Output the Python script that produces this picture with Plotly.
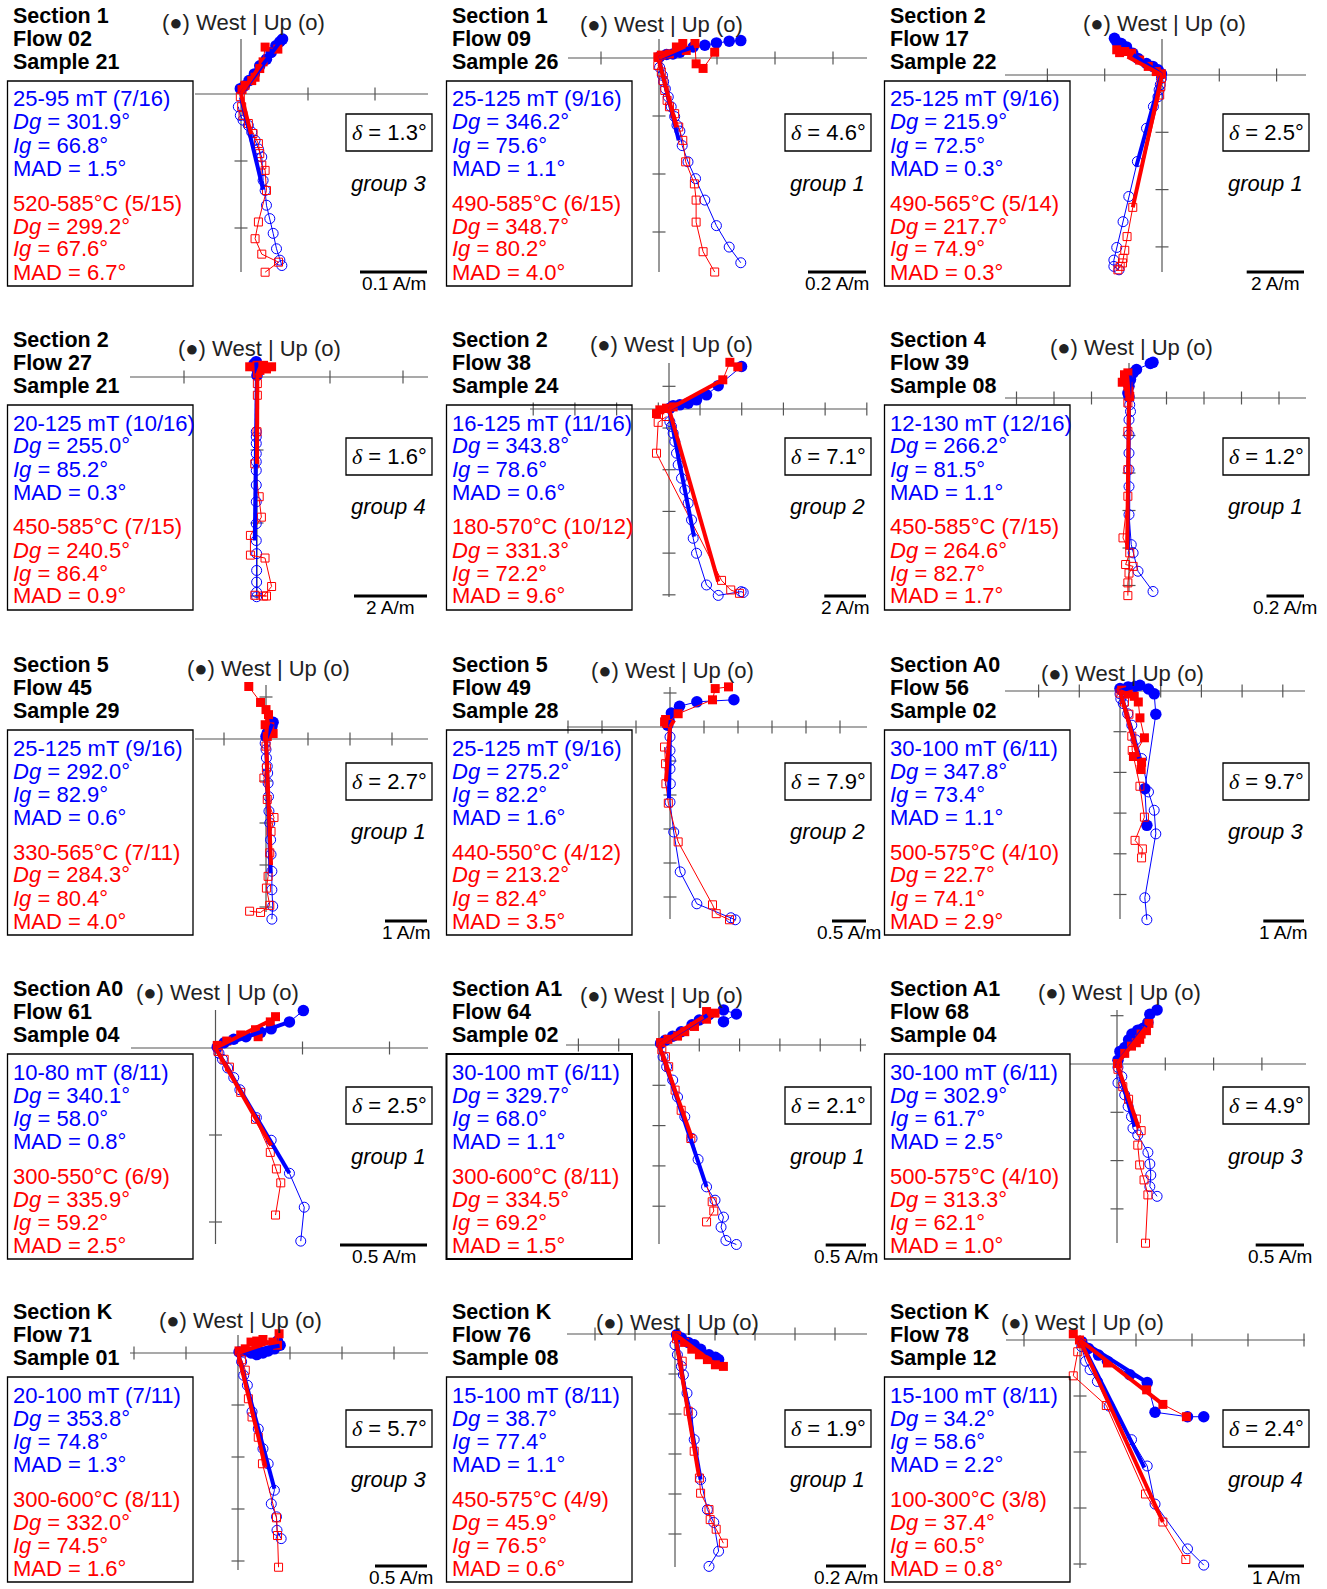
import plotly.graph_objects as go

# ---------------- text content ----------------
SECTIONS = ["Section 1", "Section 1", "Section 2", "Section 2", "Section 2", "Section 4",
            "Section 5", "Section 5", "Section A0", "Section A0", "Section A1", "Section A1",
            "Section K", "Section K", "Section K"]
FLOWS = ["Flow 02", "Flow 09", "Flow 17", "Flow 27", "Flow 38", "Flow 39", "Flow 45", "Flow 49",
         "Flow 56", "Flow 61", "Flow 64", "Flow 68", "Flow 71", "Flow 76", "Flow 78"]
SAMPLES = ["Sample 21", "Sample 26", "Sample 22", "Sample 21", "Sample 24", "Sample 08", "Sample 29",
           "Sample 28", "Sample 02", "Sample 04", "Sample 02", "Sample 04", "Sample 01", "Sample 08",
           "Sample 12"]
AF_STEPS = ["25-95 mT (7/16)", "25-125 mT (9/16)", "25-125 mT (9/16)", "20-125 mT (10/16)",
            "16-125 mT (11/16)", "12-130 mT (12/16)", "25-125 mT (9/16)", "25-125 mT (9/16)",
            "30-100 mT (6/11)", "10-80 mT (8/11)", "30-100 mT (6/11)", "30-100 mT (6/11)",
            "20-100 mT (7/11)", "15-100 mT (8/11)", "15-100 mT (8/11)"]
AF_DG = ["301.9", "346.2", "215.9", "255.0", "343.8", "266.2", "292.0", "275.2", "347.8", "340.1",
         "329.7", "302.9", "353.8", "38.7", "34.2"]
AF_IG = ["66.8", "75.6", "72.5", "85.2", "78.6", "81.5", "82.9", "82.2", "73.4", "58.0", "68.0",
         "61.7", "74.8", "77.4", "58.6"]
AF_MAD = ["1.5", "1.1", "0.3", "0.3", "0.6", "1.1", "0.6", "1.6", "1.1", "0.8", "1.1", "2.5", "1.3",
          "1.1", "2.2"]
TH_STEPS = ["520-585°C (5/15)", "490-585°C (6/15)", "490-565°C (5/14)", "450-585°C (7/15)",
            "180-570°C (10/12)", "450-585°C (7/15)", "330-565°C (7/11)", "440-550°C (4/12)",
            "500-575°C (4/10)", "300-550°C (6/9)", "300-600°C (8/11)", "500-575°C (4/10)",
            "300-600°C (8/11)", "450-575°C (4/9)", "100-300°C (3/8)"]
TH_DG = ["299.2", "348.7", "217.7", "240.5", "331.3", "264.6", "284.3", "213.2", "22.7", "335.9",
         "334.5", "313.3", "332.0", "45.9", "37.4"]
TH_IG = ["67.6", "80.2", "74.9", "86.4", "72.2", "82.7", "80.4", "82.4", "74.1", "59.2", "69.2",
         "62.1", "74.5", "76.5", "60.5"]
TH_MAD = ["6.7", "4.0", "0.3", "0.9", "9.6", "1.7", "4.0", "3.5", "2.9", "2.5", "1.5", "1.0", "1.6",
          "0.6", "0.8"]
DELTAS = ["1.3", "4.6", "2.5", "1.6", "7.1", "1.2", "2.7", "7.9", "9.7", "2.5", "2.1", "4.9", "5.7",
          "1.9", "2.4"]
GROUPS = ["group 3", "group 1", "group 1", "group 4", "group 2", "group 1", "group 1", "group 2",
          "group 3", "group 1", "group 1", "group 3", "group 3", "group 1", "group 4"]
SCALE_AM = [0.1, 0.2, 2, 2, 2, 0.2, 1, 0.5, 1, 0.5, 0.5, 0.5, 0.5, 0.2, 1]
SCALE_LABELS = ["0.1 A/m", "0.2 A/m", "2 A/m", "2 A/m", "2 A/m", "0.2 A/m", "1 A/m", "0.5 A/m",
                "1 A/m", "0.5 A/m", "0.5 A/m", "0.5 A/m", "0.5 A/m", "0.2 A/m", "1 A/m"]

# ---------------- data (A/m): BH = AF horizontal (filled), BV = AF vertical (open),
#                  RH = thermal horizontal (filled), RV = thermal vertical (open)
#                  FIT_* = [x0, y0, x1, y1] of principal component lines
P01_BH_X = [-0.001, 0.005, 0.012, 0.02, 0.028, 0.038, 0.045, 0.052, 0.058, 0.062]
P01_BH_Y = [0.008, 0.012, 0.02, 0.03, 0.042, 0.052, 0.062, 0.072, 0.078, 0.082]
P01_BV_X = [-0.004, -0.001, 0.003, 0.011, 0.016, 0.021, 0.026, 0.031, 0.033, 0.036, 0.038, 0.043, 0.048, 0.053, 0.058, 0.061]
P01_BV_Y = [-0.019, -0.032, -0.039, -0.047, -0.057, -0.069, -0.082, -0.094, -0.129, -0.144, -0.166, -0.186, -0.208, -0.231, -0.248, -0.256]
P01_RH_X = [0.0015, 0.006, 0.016, 0.021, 0.028, 0.033, 0.036, 0.055]
P01_RH_Y = [0.0066, 0.013, 0.020, 0.025, 0.038, 0.048, 0.070, 0.067]
P01_RV_X = [-0.001, 0.001, 0.003, 0.011, 0.018, 0.026, 0.028, 0.031, 0.036, 0.038, 0.026, 0.021, 0.031, 0.056, 0.036]
P01_RV_Y = [-0.004, -0.019, -0.032, -0.044, -0.059, -0.074, -0.089, -0.106, -0.114, -0.144, -0.191, -0.216, -0.239, -0.251, -0.266]
P01_FIT_BH = [0, 0, 0.06, 0.08]
P01_FIT_RH = [0, 0, 0.03, 0.045]
P01_FIT_BV = [0, -0.005, 0.033, -0.143]
P01_FIT_RV = [0, 0, 0.015, -0.06]

P02_BH_X = [0.002, 0.026, 0.048, 0.072, 0.118, 0.158, 0.198, 0.242, 0.282]
P02_BH_Y = [0.004, 0.012, 0.014, 0.02, 0.038, 0.044, 0.052, 0.058, 0.06]
P02_BV_X = [0.002, 0.012, 0.016, 0.022, 0.032, 0.042, 0.054, 0.062, 0.072, 0.08, 0.1, 0.126, 0.158, 0.198, 0.242, 0.282]
P02_BV_Y = [-0.032, -0.06, -0.082, -0.106, -0.134, -0.168, -0.202, -0.232, -0.252, -0.302, -0.358, -0.416, -0.49, -0.578, -0.652, -0.706]
P02_RH_X = [-0.004, 0.008, 0.036, 0.06, 0.082, 0.094, 0.124, 0.128, 0.152, 0.192]
P02_RH_Y = [0.004, 0.01, 0.014, 0.038, 0.05, 0.026, 0.05, -0.02, -0.036, 0.02]
P02_RV_X = [-0.004, 0.008, 0.014, 0.02, 0.028, 0.036, 0.054, 0.068, 0.082, 0.092, 0.122, 0.128, 0.128, 0.152, 0.192]
P02_RV_Y = [-0.026, -0.048, -0.078, -0.112, -0.146, -0.168, -0.192, -0.238, -0.284, -0.358, -0.434, -0.49, -0.566, -0.668, -0.738]
P02_FIT_BH = [0, 0, 0.12, 0.038]
P02_FIT_RH = [0, 0, 0.09, 0.04]
P02_FIT_BV = [0.002, -0.014, 0.068, -0.284]
P02_FIT_RV = [0, -0.01, 0.06, -0.24]

P03_BH_X = [-1.66, -1.58, -1.42, -1.24, -1.02, -0.84, -0.54, -0.32, -0.14, -0.02]
P03_BH_Y = [1.28, 1.16, 1.1, 0.98, 0.76, 0.58, 0.4, 0.3, 0.18, 0.04]
P03_BV_X = [-0.02, -0.06, -0.1, -0.14, -0.3, -0.54, -0.86, -1.16, -1.36, -1.58, -1.68, -1.68, -1.5]
P03_BV_Y = [-0.12, -0.34, -0.52, -0.76, -1.1, -1.86, -3.02, -4.24, -5.12, -6.02, -6.46, -6.68, -6.8]
P03_RH_X = [-1.58, -1.48, -1.3, -1.06, -0.78, -0.48, -0.2, -0.02]
P03_RH_Y = [0.88, 0.78, 0.82, 0.76, 0.52, 0.3, 0.12, 0.04]
P03_RV_X = [-0.02, -0.04, -0.08, -1.02, -1.22, -1.3, -1.36, -1.38, -1.46, -1.54]
P03_RV_Y = [-0.12, -0.4, -0.7, -4.62, -5.64, -6.12, -6.4, -6.56, -6.68, -6.8]
P03_FIT_BH = [0, 0, -1.0, 0.7]
P03_FIT_RH = [0, 0, -1.2, 0.64]
P03_FIT_BV = [-0.02, 0, -0.9, -3.2]
P03_FIT_RV = [0, 0, -1.02, -4.62]

P04_BH_X = [-0.02, -0.08, 0, 0.01, 0]
P04_BH_Y = [0.42, 0.36, 0.32, 0.18, 0.04]
P04_BV_X = [-0.02, -0.02, -0.02, -0.02, -0.02, -0.02, -0.02, -0.02, -0.02, -0.02, -0.01, -0.01, -0.01, -0.01, -0.01]
P04_BV_Y = [-1.5, -1.64, -1.82, -2.1, -2.32, -2.56, -2.96, -3.42, -4.02, -4.48, -4.84, -5.3, -5.62, -5.9, -6.02]
P04_RH_X = [-0.2, 0, 0.18, 0.4, 0.26, 0.08, 0.01]
P04_RH_Y = [0.28, 0.32, 0.32, 0.28, 0.22, 0.18, 0.1]
P04_RV_X = [0.01, 0.01, 0, -0.06, 0.06, 0.12, -0.18, -0.18, 0.22, 0.4, 0.18, 0.26, -0.06]
P04_RV_Y = [-0.18, -0.5, -1.5, -2.38, -3.28, -3.84, -4.34, -4.88, -4.96, -5.74, -6.0, -6.0, -5.98]
P04_FIT_BH = [0, 0.04, -0.02, 0.4]
P04_FIT_RH = [0, 0.04, 0.1, 0.3]
P04_FIT_BV = [0, 0.3, -0.06, -4.48]
P04_FIT_RV = [0.01, 0.1, 0, -2.38]

P05_BH_X = [0.04, 0.2, 0.52, 0.92, 1.32, 1.8, 2.36, 3.48]
P05_BH_Y = [0.04, 0.16, 0.2, 0.28, 0.44, 0.68, 1.12, 2.04]
P05_BV_X = [0.04, 0.12, 0.2, 0.28, 0.36, 0.44, 0.6, 0.76, 0.92, 1.08, 1.16, 1.32, 1.8, 2.36, 3.46, 3.56]
P05_BV_Y = [-0.6, -0.84, -1.16, -1.56, -2.12, -2.68, -3.32, -3.88, -4.52, -5.32, -6.2, -6.92, -8.44, -8.94, -8.76, -8.8]
P05_RH_X = [-0.6, -0.44, -0.12, 0.2, 2.58, 2.92, 3.3]
P05_RH_Y = [-0.22, -0.04, 0.04, 0.1, 1.4, 2.24, 2.02]
P05_RV_X = [-0.12, -0.52, -0.6, 2.52, 2.96, 3.38]
P05_RV_Y = [-0.36, -0.64, -2.12, -8.22, -8.68, -8.84]
P05_FIT_BH = [0, 0, 1.8, 0.8]
P05_FIT_RH = [0, 0, 2.58, 1.4]
P05_FIT_BV = [0.04, -0.2, 1.2, -6.12]
P05_FIT_RV = [0, 0, 2.36, -8.28]

P06_BH_X = [0.128, 0.114, 0.04, 0.022, 0.008, 0, -0.006, 0]
P06_BH_Y = [0.19, 0.184, 0.152, 0.134, 0.098, 0.062, 0.026, 0.006]
P06_BV_X = [0.004, 0.008, 0, 0, 0, 0, 0, 0, 0.012, 0.022, 0.048, 0.128]
P06_BV_Y = [-0.036, -0.072, -0.116, -0.196, -0.294, -0.382, -0.472, -0.622, -0.782, -0.826, -0.924, -1.032]
P06_RH_X = [-0.006, -0.024, -0.036, -0.014, -0.006, 0, 0.004]
P06_RH_Y = [0.134, 0.124, 0.084, 0.106, 0.062, 0.036, 0.008]
P06_RV_X = [-0.006, -0.006, -0.006, -0.006, -0.032, 0.004, -0.018, 0.022, 0, -0.006, -0.006]
P06_RV_Y = [-0.026, -0.178, -0.382, -0.524, -0.746, -0.826, -0.888, -0.898, -0.934, -0.986, -1.054]
P06_FIT_BH = [0, 0, 0.006, 0.12]
P06_FIT_RH = [0, 0, -0.01, 0.12]
P06_FIT_BV = [0, -0.008, -0.006, -0.808]
P06_FIT_RV = [0, 0, -0.01, -0.808]

P07_BH_X = [0, 0.03, 0.09, 0.14, 0.17, 0.09]
P07_BH_Y = [0.06, 0.14, 0.22, 0.3, 0.4, 0.34]
P07_BV_X = [-0.02, 0, 0.01, 0.03, 0.04, 0.05, 0.06, 0.07, 0.09, 0.11, 0.12, 0.14, 0.14, 0.16, 0.14]
P07_BV_Y = [-0.1, -0.25, -0.45, -0.65, -0.81, -1.05, -1.37, -1.72, -2.0, -2.4, -2.75, -3.15, -3.59, -3.98, -4.29]
P07_RH_X = [-0.41, -0.13, 0, 0.06, -0.02, 0.09, 0.17, 0.03]
P07_RH_Y = [1.25, 0.87, 0.7, 0.58, 0.34, 0.29, 0.13, 0.06]
P07_RV_X = [0, 0.01, -0.05, 0.03, 0.19, 0.12, 0.09, 0.05, 0.01, 0.09, -0.13, -0.39]
P07_RV_Y = [-0.17, -0.69, -0.93, -1.44, -1.87, -2.2, -2.71, -3.27, -3.55, -3.96, -4.13, -4.1]
P07_FIT_BH = [0, 0, 0.15, 0.36]
P07_FIT_RH = [0, 0, 0.04, 0.6]
P07_FIT_BV = [0, 0, 0.11, -3.2]
P07_FIT_RV = [0, 0, 0.12, -3.0]

P08_BH_X = [0.94, 0.395, 0.14, 0.02, -0.015, -0.035]
P08_BH_Y = [0.4, 0.37, 0.305, 0.205, 0.1, 0.025]
P08_BV_X = [0, 0, 0.005, 0, 0.005, 0, 0.055, 0.15, 0.395, 0.895, 0.96]
P08_BV_Y = [-0.145, -0.345, -0.49, -0.615, -0.835, -1.105, -1.545, -2.13, -2.6, -2.805, -2.835]
P08_RH_X = [-0.08, -0.065, -0.045, 0.12, 0.625, 0.665, 0.86]
P08_RH_Y = [0.075, 0.11, 0.05, 0.195, 0.4, 0.565, 0.59]
P08_RV_X = [-0.08, -0.065, -0.06, -0.025, 0.12, 0.625, 0.68, 0.875]
P08_RV_Y = [-0.295, -0.54, -0.835, -1.12, -1.69, -2.615, -2.745, -2.835]
P08_FIT_BH = [0, 0, 0.01, 0.1]
P08_FIT_RH = [0, 0, 0.06, 0.1]
P08_FIT_BV = [0, 0, -0.015, -1.05]
P08_FIT_RV = [0, 0, -0.06, -0.8]

P09_BH_X = [0.0, 0.2, 0.37, 0.49, 0.70, 0.84, 0.88, 0.61, 0.66]
P09_BH_Y = [0.06, 0.10, 0.11, 0.14, 0.05, -0.07, -0.57, -2.40, -3.30]
P09_BV_X = [0, 0.02, 0.08, 0.19, 0.29, 0.39, 0.53, 0.70, 0.84, 0.88, 0.61, 0.66]
P09_BV_Y = [-0.07, -0.19, -0.31, -0.56, -0.84, -1.2, -1.66, -2.48, -2.93, -3.51, -5.08, -5.62]
P09_RH_X = [0.04, 0.2, 0.35, 0.45, 0.49, 0.6, 0.33, 0.53, 0.52]
P09_RH_Y = [0.02, -0.07, -0.13, -0.27, -0.66, -1.15, -1.61, -1.75, -1.93]
P09_RV_X = [0, 0.11, 0.22, 0.29, 0.3, 0.49, 0.6, 0.37, 0.55, 0.53]
P09_RV_Y = [-0.05, -0.27, -0.57, -1.11, -1.46, -2.34, -3.1, -3.67, -3.88, -4.1]
P09_FIT_BH = [0, 0, 0.4, 0.12]
P09_FIT_RH = [0, 0, 0.35, -0.13]
P09_FIT_BV = [0, 0, 0.47, -1.66]
P09_FIT_RV = [0, 0, 0.45, -1.62]

P10_BH_X = [0.01, 0.05, 0.105, 0.175, 0.26, 0.32, 0.425, 0.505]
P10_BH_Y = [0.005, 0.03, 0.05, 0.065, 0.09, 0.11, 0.15, 0.215]
P10_BV_X = [0.02, 0.04, 0.07, 0.105, 0.14, 0.235, 0.32, 0.425, 0.51, 0.49]
P10_BV_Y = [-0.03, -0.065, -0.115, -0.17, -0.24, -0.4, -0.53, -0.72, -0.915, -1.11]
P10_RH_X = [0.01, 0.065, 0.145, 0.245, 0.23, 0.315, 0.345]
P10_RH_Y = [0.015, 0.04, 0.075, 0.065, 0.105, 0.15, 0.18]
P10_RV_X = [0.015, 0.05, 0.08, 0.145, 0.23, 0.315, 0.35, 0.375, 0.345]
P10_RV_Y = [-0.02, -0.065, -0.11, -0.255, -0.41, -0.6, -0.695, -0.775, -0.96]
P10_FIT_BH = [0, 0, 0.425, 0.15]
P10_FIT_RH = [0, 0, 0.34, 0.17]
P10_FIT_BV = [0, 0, 0.425, -0.72]
P10_FIT_RV = [0, 0, 0.32, -0.56]

P11_BH_X = [0.02, 0.08, 0.17, 0.275, 0.41, 0.5, 0.62, 0.8, 0.96, 0.8]
P11_BH_Y = [0.02, 0.06, 0.11, 0.165, 0.25, 0.31, 0.375, 0.435, 0.385, 0.29]
P11_BV_X = [0.05, 0.095, 0.17, 0.23, 0.32, 0.41, 0.485, 0.59, 0.695, 0.8, 0.77, 0.83, 0.96]
P11_BV_Y = [-0.145, -0.27, -0.435, -0.645, -0.89, -1.16, -1.42, -1.76, -1.925, -2.135, -2.26, -2.425, -2.475]
P11_RH_X = [0.02, 0.11, 0.23, 0.32, 0.44, 0.59, 0.695, 0.59]
P11_RH_Y = [0.03, 0.07, 0.11, 0.165, 0.23, 0.32, 0.395, 0.415]
P11_RV_X = [0.035, 0.08, 0.12, 0.2, 0.275, 0.395, 0.66, 0.68, 0.59]
P11_RV_Y = [-0.06, -0.145, -0.27, -0.56, -0.81, -1.16, -1.945, -2.06, -2.195]
P11_FIT_BH = [0, 0, 0.6, 0.37]
P11_FIT_RH = [0, 0, 0.55, 0.35]
P11_FIT_BV = [0, 0, 0.59, -1.76]
P11_FIT_RV = [0, 0, 0.41, -1.16]

P12_BH_X = [0.01, 0.03, 0.08, 0.12, 0.155, 0.215, 0.27, 0.32, 0.34, 0.415]
P12_BH_Y = [0.04, 0.13, 0.17, 0.25, 0.31, 0.35, 0.37, 0.43, 0.515, 0.56]
P12_BV_X = [0.01, 0.05, 0.01, 0.08, 0.115, 0.15, 0.165, 0.215, 0.32, 0.34, 0.35, 0.34, 0.415]
P12_BV_Y = [-0.035, -0.13, -0.195, -0.32, -0.44, -0.545, -0.665, -0.735, -0.915, -1.035, -1.15, -1.27, -1.37]
P12_RH_X = [0.005, 0.08, 0.15, 0.2, 0.235, 0.25, 0.305, 0.33]
P12_RH_Y = [0.005, 0.11, 0.185, 0.22, 0.255, 0.31, 0.345, 0.42]
P12_RV_X = [0.01, 0.06, 0.12, 0.2, 0.25, 0.215, 0.235, 0.28, 0.32, 0.295]
P12_RV_Y = [-0.055, -0.235, -0.365, -0.57, -0.69, -0.84, -1.045, -1.2, -1.355, -1.855]
P12_FIT_BH = [0, 0, 0.3, 0.4]
P12_FIT_RH = [0, 0, 0.3, 0.38]
P12_FIT_BV = [0, 0, 0.185, -0.65]
P12_FIT_RV = [0, 0, 0.225, -0.665]

P13_BH_X = [0.01, 0.07, 0.125, 0.18, 0.24, 0.29, 0.35, 0.405, 0.38]
P13_BH_Y = [0.01, 0.02, 0, -0.015, 0, 0.02, 0.04, 0.075, 0.115]
P13_BV_X = [0.035, 0.055, 0.09, 0.135, 0.195, 0.24, 0.29, 0.35, 0.32, 0.37, 0.375, 0.415]
P13_BV_Y = [-0.085, -0.215, -0.31, -0.565, -0.73, -0.92, -1.065, -1.32, -1.45, -1.575, -1.705, -1.785]
P13_RH_X = [0.01, 0.07, 0.125, 0.18, 0.24, 0.335, 0.395, 0.38]
P13_RH_Y = [0.02, 0.04, 0.105, 0.115, 0.13, 0.105, 0.185, 0.075]
P13_RV_X = [0.035, 0.07, 0.1, 0.135, 0.195, 0.235, 0.37, 0.38, 0.39]
P13_RV_Y = [-0.065, -0.165, -0.44, -0.615, -0.81, -1.065, -1.585, -1.755, -2.06]
P13_FIT_BH = [0, 0, 0.4, 0.07]
P13_FIT_RH = [0, 0, 0.35, 0.12]
P13_FIT_BV = [0, 0, 0.35, -1.305]
P13_FIT_RV = [0, 0, 0.265, -1.095]

P14_BH_X = [0.008, 0.032, 0.066, 0.096, 0.128, 0.17, 0.202, 0.218]
P14_BH_Y = [-0.004, -0.02, -0.042, -0.054, -0.076, -0.104, -0.116, -0.128]
P14_BV_X = [0, 0.012, 0.032, 0.042, 0.06, 0.084, 0.096, 0.128, 0.162, 0.194, 0.218, 0.17]
P14_BV_Y = [-0.054, -0.104, -0.162, -0.204, -0.296, -0.396, -0.528, -0.728, -0.878, -0.942, -1.086, -1.162]
P14_RH_X = [0.008, 0.048, 0.084, 0.122, 0.162, 0.202, 0.242]
P14_RH_Y = [-0.008, -0.042, -0.076, -0.104, -0.128, -0.154, -0.162]
P14_RV_X = [0.008, 0.036, 0.066, 0.096, 0.122, 0.128, 0.17, 0.176, 0.206, 0.242]
P14_RV_Y = [-0.024, -0.136, -0.386, -0.586, -0.72, -0.796, -0.878, -0.928, -0.976, -1.046]
P14_FIT_BH = [0, 0, 0.2, -0.116]
P14_FIT_RH = [0, 0, 0.2, -0.15]
P14_FIT_BV = [0, 0, 0.128, -0.728]
P14_FIT_RV = [0, 0, 0.12, -0.712]

P15_BH_X = [0.03, 0.15, 0.33, 0.49, 0.89, 1.20, 1.34, 1.92, 2.21]
P15_BH_Y = [-0.03, -0.15, -0.27, -0.38, -0.62, -0.76, -1.29, -1.37, -1.37]
P15_BV_X = [0.03, 0.10, 0.18, 0.31, 0.52, 0.92, 1.20, 1.34, 1.92, 2.21]
P15_BV_Y = [-0.12, -0.38, -0.53, -0.74, -1.18, -1.78, -2.25, -2.93, -3.73, -4.02]
P15_RH_X = [-0.12, -0.01, 0.03, 0.49, 1.19, 1.48, 1.9]
P15_RH_Y = [0.11, 0, -0.06, -0.41, -0.89, -1.15, -1.37]
P15_RV_X = [-0.04, -0.12, 0.47, 1.17, 1.48, 1.89]
P15_RV_Y = [-0.21, -0.64, -1.17, -2.75, -3.25, -3.92]
P15_FIT_BH = [0, 0, 1.2, -0.76]
P15_FIT_RH = [0, 0, 1.48, -1.15]
P15_FIT_BV = [0, 0, 1.15, -2.28]
P15_FIT_RV = [0, 0, 1.48, -3.25]

PANEL_DATA = []
for n in range(1, 16):
    g = globals()
    p = "P%02d_" % n
    PANEL_DATA.append(dict(
        bh=(g[p + "BH_X"], g[p + "BH_Y"]), bv=(g[p + "BV_X"], g[p + "BV_Y"]),
        rh=(g[p + "RH_X"], g[p + "RH_Y"]), rv=(g[p + "RV_X"], g[p + "RV_Y"]),
        fbh=g[p + "FIT_BH"], frh=g[p + "FIT_RH"], fbv=g[p + "FIT_BV"], frv=g[p + "FIT_RV"]))

# ---------------- layout geometry (pixels, relative to each panel) ----------------
W_FIG, H_FIG = 1327, 1589
COL_X = [0, 439, 877]
COL_W = [439, 438, 450]
ROW_Y = [0, 324, 649, 973, 1296]
ROW_H = [324, 325, 324, 323, 293]
# ox, oy: origin; s: pixels per scale unit; axis extents; tick offsets; y of direction label
GEOM = [
    dict(ox=241, oy=94, s=67, xl=195, xr=428, yt=39, yb=272, tx=0, ty=0, wy=22),
    dict(ox=220, oy=58, s=58, xl=129, xr=428, yt=39, yb=272, tx=0, ty=0, wy=24),
    dict(ox=285, oy=75, s=57.3, xl=128, xr=429, yt=39, yb=272, tx=0, ty=0, wy=23),
    dict(ox=257, oy=53, s=73, xl=130, xr=428, yt=34, yb=276, tx=0, ty=0, wy=24),
    dict(ox=230, oy=85, s=41.7, xl=91, xr=428, yt=39, yb=273, tx=0.744, ty=0.544, wy=21),
    dict(ox=252, oy=74, s=37.5, xl=128, xr=429, yt=39, yb=268, tx=0, ty=0, wy=23),
    dict(ox=266, oy=90, s=42, xl=195, xr=428, yt=36, yb=263, tx=0, ty=0, wy=19),
    dict(ox=231, oy=78, s=34, xl=128, xr=428, yt=38, yb=270, tx=0, ty=0, wy=21),
    dict(ox=243, oy=42, s=40.7, xl=128, xr=428, yt=40, yb=270, tx=0, ty=0, wy=24),
    dict(ox=215.5, oy=75, s=87, xl=131, xr=428, yt=37, yb=271, tx=0, ty=0, wy=20),
    dict(ox=220, oy=72, s=40.3, xl=127, xr=427, yt=38, yb=271, tx=0, ty=0, wy=22),
    dict(ox=240, oy=91, s=48.3, xl=193, xr=429, yt=37, yb=270, tx=0, ty=0, wy=19),
    dict(ox=238, oy=57, s=52, xl=130, xr=428, yt=39, yb=274, tx=0, ty=0, wy=24),
    dict(ox=236, oy=38, s=40, xl=128, xr=428, yt=36, yb=271, tx=0, ty=0, wy=26),
    dict(ox=203, oy=44, s=56, xl=129, xr=428, yt=39, yb=272, tx=0, ty=0, wy=26),
]

BLUE = "#0000FF"
RED = "#FF0000"
AXIS_COLOR = "#555555"
FONT = "Liberation Sans, Arial, Helvetica, sans-serif"
TXT = 22

fig = go.Figure()
annotations = []
shapes = []
layout_axes = {}


def paper(i, rx, ry):
    r, c = divmod(i, 3)
    return (COL_X[c] + rx) / W_FIG, 1 - (ROW_Y[r] + ry) / H_FIG


def ann(i, rx, ry, text, size=TXT, color="black", xanchor="left", bold=False, yanchor="middle"):
    x, y = paper(i, rx, ry)
    if bold:
        text = "<b>" + text + "</b>"
    annotations.append(dict(x=x, y=y, xref="paper", yref="paper", text=text, showarrow=False,
                            xanchor=xanchor, yanchor=yanchor, borderpad=0,
                            font=dict(family=FONT, size=size, color=color)))


def rect(i, x0, y0, x1, y1, width=1.3):
    px0, py0 = paper(i, x0, y0)
    px1, py1 = paper(i, x1, y1)
    shapes.append(dict(type="rect", xref="paper", yref="paper", x0=px0, y0=py1, x1=px1, y1=py0,
                       line=dict(color="black", width=width), fillcolor="rgba(0,0,0,0)"))


for i in range(15):
    r, c = divmod(i, 3)
    g = GEOM[i]
    u = SCALE_AM[i]
    k = u / g["s"]
    ox, oy = g["ox"], g["oy"]
    pw, ph = COL_W[c], ROW_H[r]
    sfx = "" if i == 0 else str(i + 1)
    xa, ya = "x" + sfx, "y" + sfx
    layout_axes["xaxis" + sfx] = dict(domain=[COL_X[c] / W_FIG, (COL_X[c] + pw) / W_FIG],
                                      range=[(0 - ox) * k, (pw - ox) * k], visible=False,
                                      fixedrange=True, anchor=ya)
    layout_axes["yaxis" + sfx] = dict(domain=[1 - (ROW_Y[r] + ph) / H_FIG, 1 - ROW_Y[r] / H_FIG],
                                      range=[(oy - ph) * k, oy * k], visible=False,
                                      fixedrange=True, anchor=xa)

    # axes with crossing ticks
    x_left, x_right = (g["xl"] - ox) * k, (g["xr"] - ox) * k
    y_top, y_bot = (oy - g["yt"]) * k, (oy - g["yb"]) * k
    h = 6.5 * k
    ax_x = [x_left, x_right, None, 0, 0, None]
    ax_y = [0, 0, None, y_top, y_bot, None]
    for n in range(-30, 31):
        t = (n + g["tx"]) * u
        if x_left < t < x_right and abs(t) > 1e-9:
            ax_x += [t, t, None]
            ax_y += [-h, h, None]
        t = (n + g["ty"]) * u
        if y_bot < t < y_top and abs(t) > 1e-9:
            ax_x += [-h, h, None]
            ax_y += [t, t, None]
    fig.add_trace(go.Scatter(x=ax_x, y=ax_y, mode="lines", line=dict(color=AXIS_COLOR, width=1.2),
                             xaxis=xa, yaxis=ya, hoverinfo="skip", showlegend=False))

    d = PANEL_DATA[i]

    def series(xy, color, symbol, size, lw):
        fig.add_trace(go.Scatter(
            x=xy[0], y=xy[1], mode="lines+markers", line=dict(color=color, width=1),
            marker=dict(symbol=symbol, size=size, color=color, line=dict(color=color, width=lw)),
            xaxis=xa, yaxis=ya, cliponaxis=False, hoverinfo="skip", showlegend=False))

    series(d["bv"], BLUE, "circle-open", 10, 1)
    series(d["bh"], BLUE, "circle", 11.5, 0)
    series(d["rv"], RED, "square-open", 8, 1)
    series(d["rh"], RED, "square", 9, 0)

    for key, color in (("fbv", BLUE), ("fbh", BLUE), ("frv", RED), ("frh", RED)):
        f = d[key]
        fig.add_trace(go.Scatter(x=[f[0], f[2]], y=[f[1], f[3]], mode="lines",
                                 line=dict(color=color, width=4), xaxis=xa, yaxis=ya,
                                 cliponaxis=False, hoverinfo="skip", showlegend=False))

    # scale bar
    bar_y_px = 270 if r == 4 else 272
    xr_bar = (427 - ox) * k
    yb = (oy - bar_y_px) * k
    fig.add_trace(go.Scatter(x=[xr_bar - u, xr_bar], y=[yb, yb], mode="lines",
                             line=dict(color="black", width=3), xaxis=xa, yaxis=ya,
                             cliponaxis=False, hoverinfo="skip", showlegend=False))
    if r == 4:
        ann(i, 427 - g["s"] / 2, ph, SCALE_LABELS[i], size=19, xanchor="center", yanchor="bottom")
    else:
        ann(i, 427 - g["s"] / 2, 283, SCALE_LABELS[i], size=19, xanchor="center")

    # titles
    ann(i, 12, 16, SECTIONS[i], size=21.5, bold=True)
    ann(i, 12, 39, FLOWS[i], size=21.5, bold=True)
    ann(i, 12, 62, SAMPLES[i], size=21.5, bold=True)

    # statistics box
    rect(i, 7.5, 81, 193, 286, width=2 if i == 10 else 1.3)
    ann(i, 12, 99, AF_STEPS[i], color=BLUE)
    ann(i, 12, 122, "<i>Dg</i> = " + AF_DG[i] + "°", color=BLUE)
    ann(i, 12, 145, "<i>Ig</i> = " + AF_IG[i] + "°", color=BLUE)
    ann(i, 12, 168, "MAD = " + AF_MAD[i] + "°", color=BLUE)
    ann(i, 12, 203, TH_STEPS[i], color=RED)
    ann(i, 12, 226, "<i>Dg</i> = " + TH_DG[i] + "°", color=RED)
    ann(i, 12, 249, "<i>Ig</i> = " + TH_IG[i] + "°", color=RED)
    ann(i, 12, 272, "MAD = " + TH_MAD[i] + "°", color=RED)

    # delta box and group
    rect(i, 346, 114, 432, 151)
    ann(i, 389, 132.5, "<span style=\"font-family:'Liberation Serif'\"><i>δ</i></span> = "
        + DELTAS[i] + "°", xanchor="center")
    ann(i, 427, 183, "<i>" + GROUPS[i] + "</i>", xanchor="right")

    # direction label
    ann(i, ox + 2, g["wy"], "(\u25cf) West | Up (o)", color="#222222", xanchor="center")

fig.update_layout(width=W_FIG, height=H_FIG, margin=dict(l=0, r=0, t=0, b=0),
                  paper_bgcolor="white", plot_bgcolor="white", showlegend=False,
                  annotations=annotations, shapes=shapes, **layout_axes)

fig.write_html("out.html", config={"displayModeBar": False},
               post_script="document.body.style.margin='0px';document.body.style.overflow='hidden';")
